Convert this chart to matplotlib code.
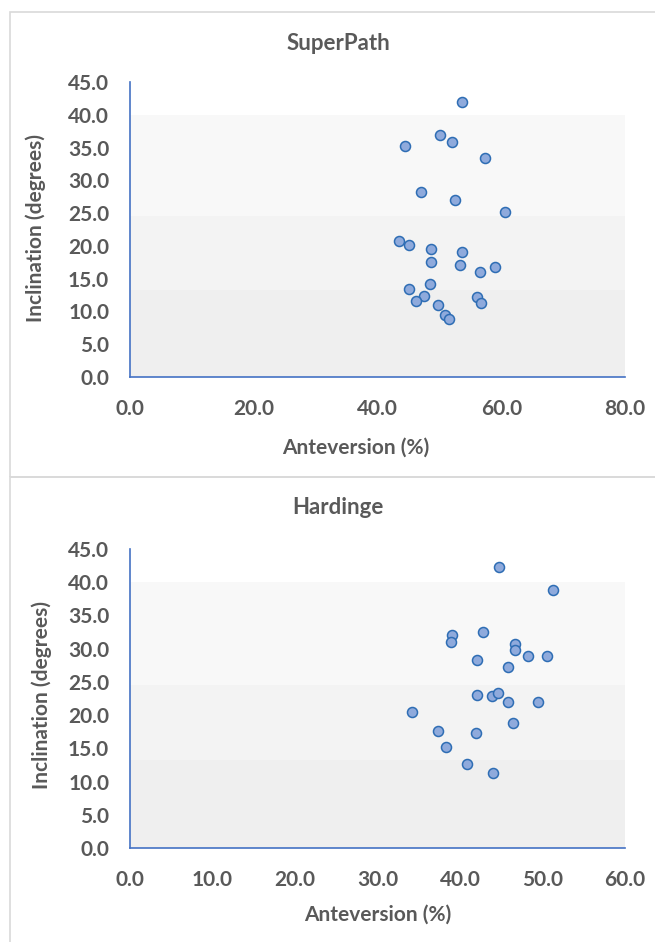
import matplotlib
matplotlib.use("Agg")
import matplotlib.pyplot as plt
from matplotlib.patches import Rectangle

# ---- data ----
superpath_antev = [53.7, 50.05, 52.1, 44.45, 57.4, 47.1, 52.5, 60.6, 43.4, 45.1, 48.6, 53.6,
                   48.6, 53.3, 56.6, 59.0, 48.5, 45.1, 47.5, 46.3, 49.85, 56.0, 56.7, 50.9, 51.5]
superpath_incl = [42.0, 37.0, 35.8, 35.2, 33.5, 28.3, 27.0, 25.1, 20.7, 20.2, 19.5, 19.1,
                  17.5, 17.1, 16.0, 16.7, 14.1, 13.4, 12.4, 11.6, 11.0, 12.2, 11.3, 9.4, 8.8]

hardinge_antev = [44.7, 51.3, 39.0, 38.9, 42.8, 46.7, 46.7, 48.3, 50.5, 42.1, 45.8, 42.1,
                  43.85, 44.6, 45.8, 49.5, 34.2, 46.4, 37.3, 41.9, 38.3, 40.9, 44.05]
hardinge_incl = [42.35, 38.8, 32.1, 31.0, 32.5, 30.7, 29.75, 28.9, 28.95, 28.25, 27.3, 23.1,
                 22.9, 23.4, 22.0, 22.0, 20.5, 18.8, 17.6, 17.3, 15.25, 12.6, 11.3]

titles = ["SuperPath", "Hardinge"]
x_label = "Anteversion (%)"
y_label = "Inclination (degrees)"
y_ticks = [0, 5, 10, 15, 20, 25, 30, 35, 40, 45]
x_ticks_top = [0, 20, 40, 60, 80]
x_ticks_bottom = [0, 10, 20, 30, 40, 50, 60]

TEXT = "#595959"
AXIS = "#4472c4"
FACE = "#8faadc"
EDGE = "#2e6db4"
FONT = "Lato"

W, H = 655, 942
fig = plt.figure(figsize=(W / 100, H / 100), dpi=100)
fig.patch.set_facecolor("white")

# chart frames
fig.add_artist(Rectangle((10 / W, 1 - 477 / H), 1.0, 465 / H, transform=fig.transFigure,
                         fill=False, edgecolor="#d9d9d9", linewidth=1.2))
fig.add_artist(Rectangle((10 / W, -0.01), 1.0, (H - 477) / H + 0.01, transform=fig.transFigure,
                         fill=False, edgecolor="#d9d9d9", linewidth=1.2))

def make(ax_rect, xs, ys, xticks, title, title_y, xlabel_y, xlabel_x, ylabel_x, ylabel_y):
    ax = fig.add_axes(ax_rect)
    ax.set_facecolor("white")
    xmax = xticks[-1]
    # stepped background fill
    ax.axhspan(0, 13.25, color="#efefef", zorder=0, lw=0)
    ax.axhspan(13.25, 24.5, color="#f3f3f3", zorder=0, lw=0)
    ax.axhspan(24.5, 40, color="#f8f8f8", zorder=0, lw=0)
    ax.scatter(xs, ys, s=52, facecolor=FACE, edgecolor=EDGE, linewidth=1.1, zorder=3)
    ax.set_xlim(0, xmax)
    ax.set_ylim(0, 45)
    ax.set_xticks(xticks)
    ax.set_yticks(y_ticks)
    ax.set_xticklabels([f"{v:.1f}" for v in xticks])
    ax.set_yticklabels([f"{v:.1f}" for v in y_ticks])
    for s in ["top", "right"]:
        ax.spines[s].set_visible(False)
    for s in ["left", "bottom"]:
        ax.spines[s].set_color(AXIS)
        ax.spines[s].set_linewidth(1.2)
    ax.tick_params(length=0, labelsize=15, labelcolor=TEXT)
    ax.tick_params(axis="y", pad=15)
    ax.tick_params(axis="x", pad=16)
    for lab in ax.get_xticklabels() + ax.get_yticklabels():
        lab.set_fontfamily(FONT)
        lab.set_fontweight("bold")
    fig.text(338 / W, 1 - title_y / H, title, ha="center", va="center", fontsize=16,
             fontweight="bold", color=TEXT, family=FONT)
    fig.text(xlabel_x / W, 1 - xlabel_y / H, x_label, ha="center", va="center", fontsize=15,
             fontweight="bold", color=TEXT, family=FONT)
    fig.text(ylabel_x / W, 1 - ylabel_y / H, y_label, ha="center", va="center", fontsize=15,
             fontweight="bold", color=TEXT, family=FONT, rotation=90)
    return ax

make([130 / W, 1 - 376.7 / H, 495 / W, 294.4 / H], superpath_antev, superpath_incl,
     x_ticks_top, titles[0], 43, 448, 356, 36, 228)
make([130 / W, 1 - 848 / H, 495 / W, 299 / H], hardinge_antev, hardinge_incl,
     x_ticks_bottom, titles[1], 508, 915, 378, 42, 695)

fig.savefig("out.png", dpi=100)
